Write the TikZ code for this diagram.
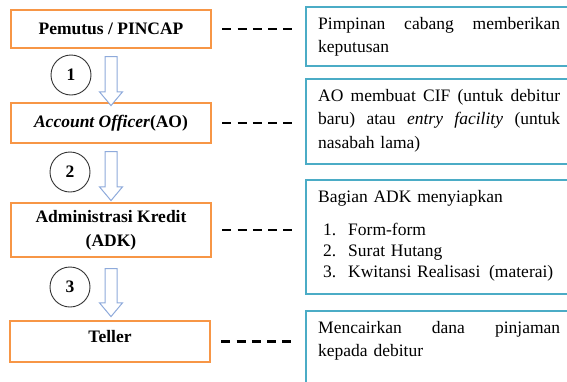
\documentclass[tikz,border=0pt]{standalone}
\usepackage{fontspec}
\setmainfont{Liberation Serif}
\usetikzlibrary{shapes.arrows, positioning}

\definecolor{boxorange}{HTML}{F79646}
\definecolor{boxblue}{HTML}{4BACC6}
\definecolor{arrowblue}{HTML}{8EAADB}

\begin{document}
\begin{tikzpicture}[
    x=1pt, y=-1pt,
    stepbox/.style={draw=boxorange, line width=2.4pt, minimum width=200pt, align=center, font=\fontsize{17.5}{24}\selectfont\bfseries},
    notebox/.style={draw=boxblue, line width=2.4pt, anchor=north west, text width=242pt, inner xsep=12pt, inner ysep=10pt, text height=12pt, align=left, font=\fontsize{17.5}{23.5}\selectfont},
    numcircle/.style={circle, draw=black!80, line width=0.9pt, minimum size=40pt, inner sep=0pt, font=\fontsize{17.5}{17.5}\selectfont\bfseries},
    downarrow/.style={single arrow, draw=arrowblue, line width=1pt, fill=white, rotate=-90, inner sep=5.5pt, single arrow head extend=5.5pt, single arrow tip angle=80, minimum height=49pt},
    link/.style={line width=2.5pt, dash pattern=on 9pt off 6.3pt, shorten <=10pt, shorten >=13pt}
]
\useasboundingbox (0,0) rectangle (567,381);
\clip (0,0) rectangle (567,381);

% Nodes - alur
\node[stepbox, minimum height=38pt] (pemutus) at (111,29) {Pemutus / PINCAP};
\node[stepbox, minimum height=40pt] (ao) at (111,123) {\textit{Account Officer}(AO)};
\node[stepbox, minimum height=54pt] (adk) at (111,230) {Administrasi Kredit\\(ADK)};
\node[stepbox, minimum height=41pt, text height=12pt, text depth=10pt] (teller) at (110,341.5) {Teller};

% Nodes - keterangan
\node[notebox, text depth=27pt] (ketpemutus) at (305,6) {Pimpinan\hfill cabang\hfill memberikan\\keputusan};
\node[notebox, text depth=53pt] (ketao) at (305,78) {AO\hfill membuat\hfill CIF\hfill (untuk\hfill debitur\\baru)\hfill atau\hfill \textit{entry}\hfill \textit{facility}\hfill (untuk\\nasabah lama)};
\node[notebox, text depth=82pt] (ketadk) at (305,179) {Bagian ADK menyiapkan\\[10pt]
    \hspace*{5pt}\makebox[25pt][l]{1.}Form-form\\[-2.5pt]
    \hspace*{5pt}\makebox[25pt][l]{2.}Surat Hutang\\[-2.5pt]
    \hspace*{5pt}\makebox[25pt][l]{3.}Kwitansi Realisasi\ \,(materai)};
\node[notebox, text depth=60pt] (ketteller) at (305,310) {Mencairkan\hfill dana\hfill pinjaman\\kepada debitur};

% Nodes - nomor langkah
\node[numcircle] (no1) at (71,75) {1};
\node[numcircle] (no2) at (70,172) {2};
\node[numcircle] (no3) at (70,287) {3};

% Arrows - alur
\node[downarrow] (panah1) at (111,77.5) {};
\node[downarrow] (panah2) at (111,172.5) {};
\node[downarrow, minimum height=48pt] (panah3) at (111,289) {};

% Arrows - garis keterangan
\draw[link] (pemutus.east) -- (pemutus.east -| ketpemutus.west);
\draw[link] (ao.east) -- (ao.east -| ketao.west);
\draw[link] (adk.east) -- (adk.east -| ketadk.west);
\draw[link] (teller.east) -- (teller.east -| ketteller.west);

\end{tikzpicture}
\end{document}
